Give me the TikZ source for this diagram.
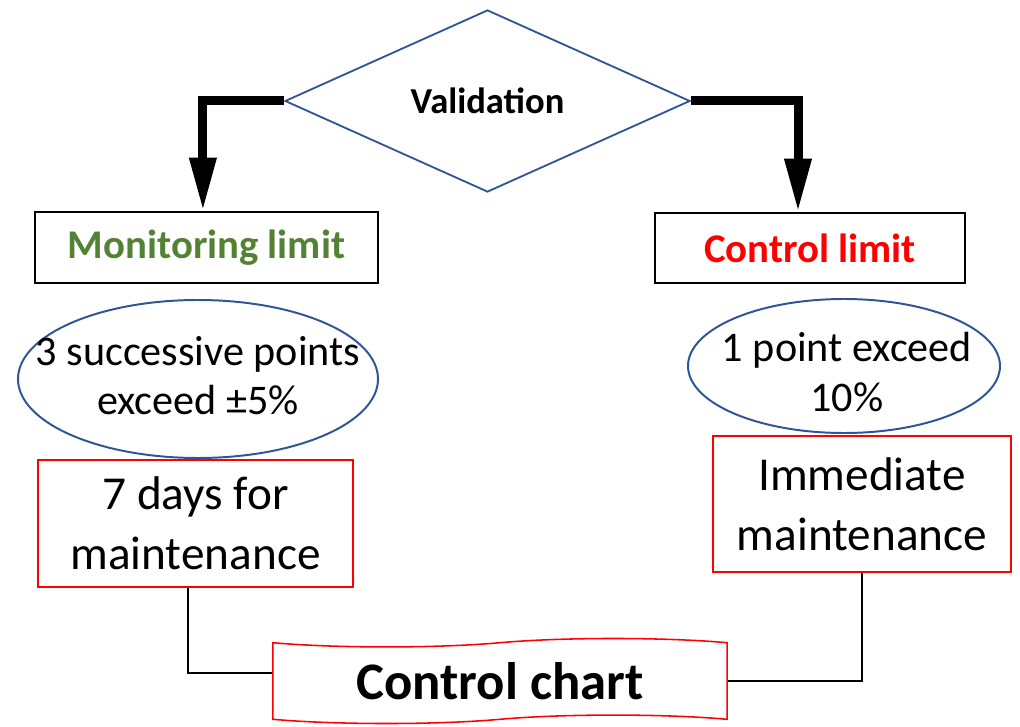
\documentclass[tikz,border=0pt]{standalone}
\usepackage{fontspec}
\setmainfont{Carlito}
\usetikzlibrary{shapes.geometric,shapes.symbols,arrows.meta}

\definecolor{outblue}{HTML}{2F5597}
\definecolor{limgreen}{HTML}{548235}

\begin{document}
\begin{tikzpicture}[x=0.025cm,y=-0.025cm,
    limbox/.style={draw,line width=1.4pt,inner sep=0pt,font=\fontsize{29}{34}\selectfont\bfseries},
    rule/.style={inner sep=0pt,align=center,font=\fontsize{30}{35}\selectfont},
    ruleline/.style={draw=outblue,line width=1.4pt},
    action/.style={draw=red,line width=1.1pt,inner sep=0pt,align=center,font=\fontsize{33.6}{42.5}\selectfont},
    bigarrow/.style={line width=6.4pt,-{Triangle[width=18pt,length=38pt]}},
    joint/.style={line width=1.1pt}]

    \useasboundingbox (0,0) rectangle (1020,727);

    \node[diamond,draw=outblue,line width=1.3pt,inner sep=0pt,minimum width=10.125cm,minimum height=4.55cm,
          font=\fontsize{26}{30}\selectfont\bfseries] (valid) at (487.5,101) {Validation};

    \node[limbox,minimum width=8.575cm,minimum height=1.775cm,text=limgreen] (mon) at (206.5,247.5) {Monitoring limit};
    \node[limbox,minimum width=7.75cm,minimum height=1.75cm,text=red] (ctrl) at (810,248) {Control limit};

    % rules, drawn round their texts
    \draw[ruleline] (198,379) ellipse (180 and 79);
    \node[rule] (three) at (198,376) {3 successive points\\exceed ±5\%};
    \draw[ruleline] (844,366) ellipse (156 and 67);
    \node[rule] (one) at (847,372) {1 point exceed\\10\%};

    \node[action,minimum width=7.875cm,minimum height=3.175cm] (week) at (195.5,523.5) {7 days for\\maintenance};
    \node[action,minimum width=7.45cm,minimum height=3.4cm] (now) at (862,504) {Immediate\\maintenance};

    \node[tape,draw=red,line width=1.1pt,inner sep=0pt,tape bend height=6pt,minimum width=11.35cm,minimum height=2.125cm,
          font=\fontsize{37.5}{42}\selectfont\bfseries] (chart) at (500,681) {Control chart};

    % decision arrows
    \draw[bigarrow] (valid.west) -| ([xshift=-0.09cm]mon.north);
    \draw[bigarrow] (valid.east) -| ([xshift=-0.3cm]ctrl.north);

    % to the chart
    \draw[joint] ([xshift=-0.19cm]week.south) |- ([yshift=0.2cm]chart.west);
    \draw[joint] (now.south) |- (chart.east);

\end{tikzpicture}
\end{document}
